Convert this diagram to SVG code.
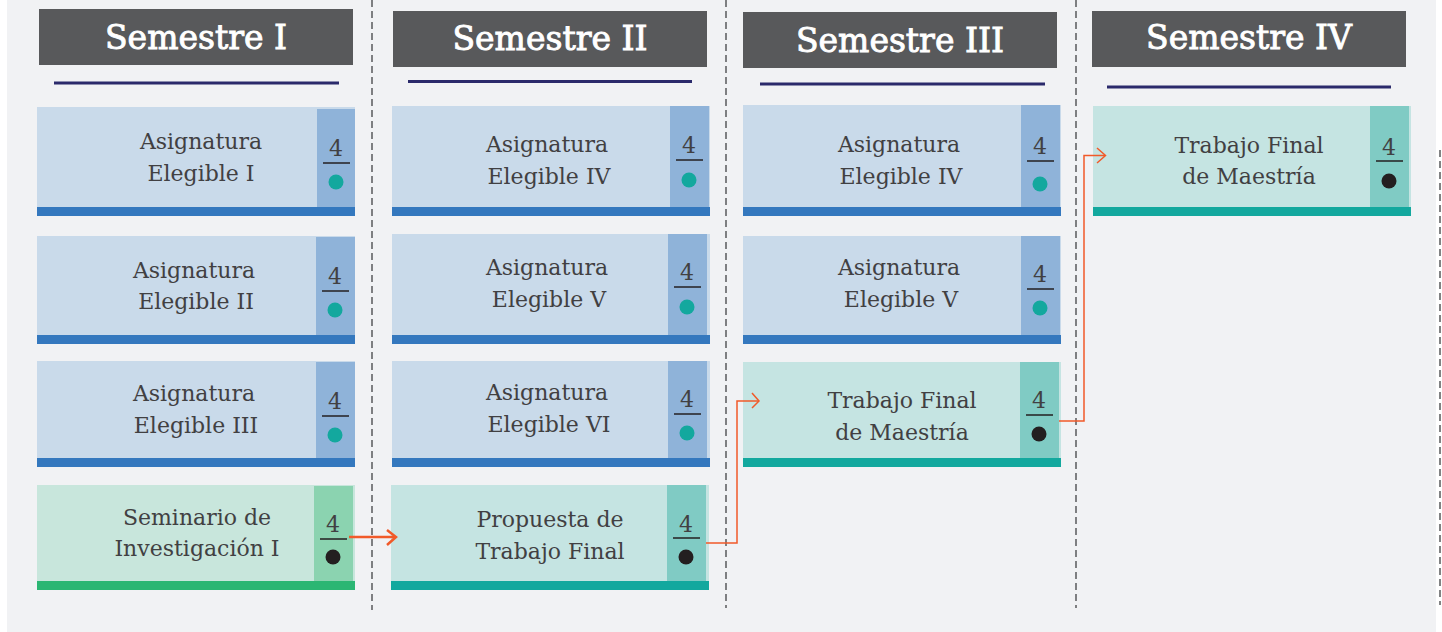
<svg xmlns="http://www.w3.org/2000/svg" width="1442" height="632" viewBox="0 0 1442 632">
<defs>
<style>
.hdr{fill:#58595b}
.htxt{font-family:"DejaVu Serif",serif;font-size:33px;fill:#ffffff;stroke:#ffffff;stroke-width:0.9;text-anchor:middle}
.uline{stroke:#2b2a6b;stroke-width:3}
.txt{font-family:"DejaVu Serif",serif;font-size:22px;fill:#414042;text-anchor:middle}
.num{font-family:"DejaVu Serif",serif;font-size:22px;fill:#414042;text-anchor:middle}
.frac{stroke:#231f20;stroke-width:1.5}
.bbg{fill:#c9daea}.btab{fill:#8fb3d9}.bbar{fill:#3478be}
.gbg{fill:#c8e6dc}.gtab{fill:#8bd3b0}.gbar{fill:#2bb673}
.tbg{fill:#c5e4e2}.ttab{fill:#80cbc4}.tbar{fill:#13a89e}
.tdot{fill:#13a89e}.kdot{fill:#231f20}
.div{stroke:#58595b;stroke-width:1.5;stroke-dasharray:7 4;fill:none}
.conn{stroke:#f15a29;fill:none;stroke-width:1.5}
</style>
</defs>
<rect x="0" y="0" width="1442" height="632" fill="#ffffff"/>
<rect x="7" y="0" width="1429" height="632" fill="#f1f2f4"/>

<g id="dividers">
<line class="div" x1="372" y1="0" x2="372" y2="610"/>
<line class="div" x1="726" y1="0" x2="726" y2="608"/>
<line class="div" x1="1076" y1="0" x2="1076" y2="608"/>
<line class="div" x1="1440" y1="150" x2="1440" y2="605"/>
</g>

<g id="header-1">
<rect class="hdr" x="39" y="9" width="314" height="56"/>
<text class="htxt" x="196" y="49">Semestre I</text>
<line class="uline" x1="54" y1="83" x2="339" y2="83"/>
</g>
<g id="header-2">
<rect class="hdr" x="393" y="11" width="314" height="56"/>
<text class="htxt" x="550" y="50">Semestre II</text>
<line class="uline" x1="408" y1="81.5" x2="692" y2="81.5"/>
</g>
<g id="header-3">
<rect class="hdr" x="743" y="12" width="314" height="56"/>
<text class="htxt" x="900" y="52">Semestre III</text>
<line class="uline" x1="760" y1="84" x2="1045" y2="84"/>
</g>
<g id="header-4">
<rect class="hdr" x="1092" y="11" width="314" height="56"/>
<text class="htxt" x="1249" y="49">Semestre IV</text>
<line class="uline" x1="1107" y1="87" x2="1391" y2="87"/>
</g>

<!-- Column I -->
<g id="c1-1">
<rect class="bbg" x="37" y="107" width="318" height="100"/>
<rect class="btab" x="317" y="109" width="38" height="98"/>
<rect class="bbar" x="37" y="207" width="318" height="9"/>
<text class="txt" x="201" y="149">Asignatura</text>
<text class="txt" x="201" y="181">Elegible I</text>
<text class="num" x="336" y="156">4</text>
<line class="frac" x1="323" y1="163" x2="350" y2="163"/>
<circle class="tdot" cx="336" cy="182" r="7.5"/>
</g>
<g id="c1-2">
<rect class="bbg" x="37" y="236" width="318" height="99"/>
<rect class="btab" x="316" y="237" width="39" height="98"/>
<rect class="bbar" x="37" y="335" width="318" height="9"/>
<text class="txt" x="194" y="278">Asignatura</text>
<text class="txt" x="196" y="309">Elegible II</text>
<text class="num" x="335" y="284">4</text>
<line class="frac" x1="322" y1="291" x2="349" y2="291"/>
<circle class="tdot" cx="335" cy="310" r="7.5"/>
</g>
<g id="c1-3">
<rect class="bbg" x="37" y="361" width="318" height="97"/>
<rect class="btab" x="316" y="362" width="39" height="96"/>
<rect class="bbar" x="37" y="458" width="318" height="9"/>
<text class="txt" x="194" y="401">Asignatura</text>
<text class="txt" x="196" y="433">Elegible III</text>
<text class="num" x="335" y="409">4</text>
<line class="frac" x1="322" y1="416" x2="349" y2="416"/>
<circle class="tdot" cx="335" cy="435" r="7.5"/>
</g>
<g id="c1-4">
<rect class="gbg" x="37" y="485" width="318" height="96"/>
<rect class="gtab" x="314" y="486" width="39" height="95"/>
<rect class="gbar" x="37" y="581" width="318" height="9"/>
<text class="txt" x="197" y="525">Seminario de</text>
<text class="txt" x="197" y="556">Investigación I</text>
<text class="num" x="333" y="532">4</text>
<line class="frac" x1="320" y1="539" x2="347" y2="539"/>
<circle class="kdot" cx="333" cy="557" r="7.5"/>
</g>

<!-- Column II -->
<g id="c2-1">
<rect class="bbg" x="392" y="106" width="318" height="101"/>
<rect class="btab" x="670" y="106" width="39" height="101"/>
<rect class="bbar" x="392" y="207" width="318" height="9"/>
<text class="txt" x="547" y="152">Asignatura</text>
<text class="txt" x="549" y="184">Elegible IV</text>
<text class="num" x="689" y="153">4</text>
<line class="frac" x1="676" y1="160" x2="703" y2="160"/>
<circle class="tdot" cx="689" cy="180" r="7.5"/>
</g>
<g id="c2-2">
<rect class="bbg" x="392" y="234" width="318" height="101"/>
<rect class="btab" x="668" y="234" width="39" height="101"/>
<rect class="bbar" x="392" y="335" width="318" height="9"/>
<text class="txt" x="547" y="275">Asignatura</text>
<text class="txt" x="549" y="307">Elegible V</text>
<text class="num" x="687" y="280">4</text>
<line class="frac" x1="674" y1="287" x2="701" y2="287"/>
<circle class="tdot" cx="687" cy="307" r="7.5"/>
</g>
<g id="c2-3">
<rect class="bbg" x="392" y="361" width="318" height="97"/>
<rect class="btab" x="668" y="361" width="39" height="97"/>
<rect class="bbar" x="392" y="458" width="318" height="9"/>
<text class="txt" x="547" y="400">Asignatura</text>
<text class="txt" x="549" y="432">Elegible VI</text>
<text class="num" x="687" y="407">4</text>
<line class="frac" x1="674" y1="414" x2="701" y2="414"/>
<circle class="tdot" cx="687" cy="433" r="7.5"/>
</g>
<g id="c2-4">
<rect class="tbg" x="391" y="485" width="318" height="96"/>
<rect class="ttab" x="667" y="485" width="39" height="96"/>
<rect class="tbar" x="391" y="581" width="318" height="9"/>
<text class="txt" x="550" y="527">Propuesta de</text>
<text class="txt" x="550" y="559">Trabajo Final</text>
<text class="num" x="686" y="532">4</text>
<line class="frac" x1="673" y1="538" x2="700" y2="538"/>
<circle class="kdot" cx="686" cy="557" r="7.5"/>
</g>

<!-- Column III -->
<g id="c3-1">
<rect class="bbg" x="743" y="105" width="318" height="102"/>
<rect class="btab" x="1021" y="105" width="39" height="102"/>
<rect class="bbar" x="743" y="207" width="318" height="9"/>
<text class="txt" x="899" y="152">Asignatura</text>
<text class="txt" x="901" y="184">Elegible IV</text>
<text class="num" x="1040" y="154">4</text>
<line class="frac" x1="1027" y1="161" x2="1054" y2="161"/>
<circle class="tdot" cx="1040" cy="184" r="7.5"/>
</g>
<g id="c3-2">
<rect class="bbg" x="743" y="236" width="318" height="99"/>
<rect class="btab" x="1021" y="236" width="39" height="99"/>
<rect class="bbar" x="743" y="335" width="318" height="9"/>
<text class="txt" x="899" y="275">Asignatura</text>
<text class="txt" x="901" y="307">Elegible V</text>
<text class="num" x="1040" y="282">4</text>
<line class="frac" x1="1027" y1="289" x2="1054" y2="289"/>
<circle class="tdot" cx="1040" cy="308" r="7.5"/>
</g>
<g id="c3-3">
<rect class="tbg" x="743" y="362" width="318" height="96"/>
<rect class="ttab" x="1020" y="362" width="39" height="96"/>
<rect class="tbar" x="743" y="458" width="318" height="9"/>
<text class="txt" x="902" y="408">Trabajo Final</text>
<text class="txt" x="902" y="440">de Maestría</text>
<text class="num" x="1039" y="408">4</text>
<line class="frac" x1="1026" y1="415" x2="1053" y2="415"/>
<circle class="kdot" cx="1039" cy="434" r="7.5"/>
</g>

<!-- Column IV -->
<g id="c4-1">
<rect class="tbg" x="1093" y="106" width="318" height="101"/>
<rect class="ttab" x="1370" y="106" width="39" height="101"/>
<rect class="tbar" x="1093" y="207" width="318" height="9"/>
<text class="txt" x="1249" y="153">Trabajo Final</text>
<text class="txt" x="1249" y="184">de Maestría</text>
<text class="num" x="1389" y="155">4</text>
<line class="frac" x1="1376" y1="161" x2="1403" y2="161"/>
<circle class="kdot" cx="1389" cy="181" r="7.5"/>
</g>

<g id="connectors">
<path class="conn" style="stroke-width:2.5" d="M349 537 H395"/>
<path class="conn" style="stroke-width:2.5" d="M387 530 L396 537 L387 545"/>
<path class="conn" d="M706 543 H737 V401 H759"/>
<path class="conn" d="M752 393 L759 401 L752 408"/>
<path class="conn" d="M1059 421 H1084 V155.5 H1105"/>
<path class="conn" d="M1097 148 L1105.5 155.5 L1097 163"/>
</g>
</svg>
